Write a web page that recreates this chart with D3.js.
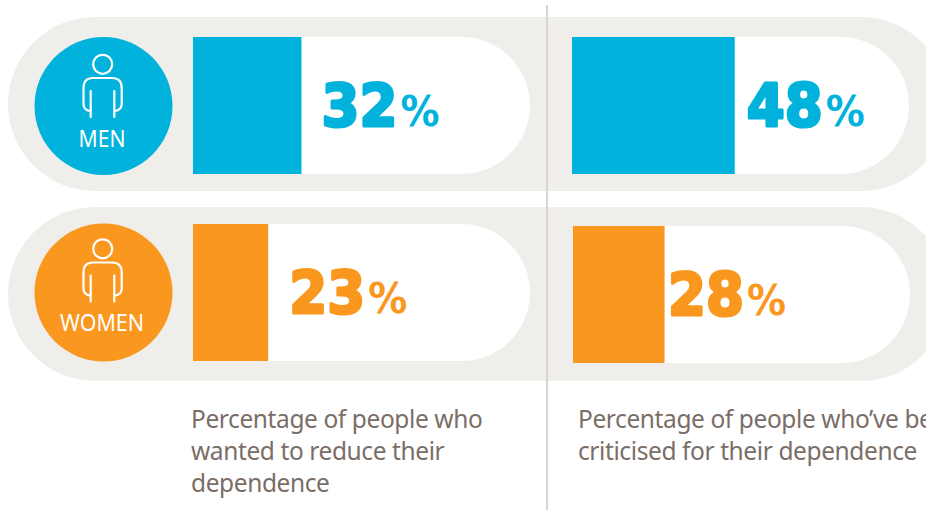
<!DOCTYPE html>
<html>
<head>
<meta charset="utf-8">
<script src="https://cdn.jsdelivr.net/npm/d3@7/dist/d3.min.js"></script>
<style>
  html, body { margin: 0; padding: 0; background: #fff; overflow: hidden; }
  svg { display: block; }
</style>
</head>
<body>
<svg id="chart"></svg>
<script>
// ── data ───────────────────────────────────────────────────────────────
const groups = ["MEN", "WOMEN"];
const reduceValues = [32, 23];
const criticisedValues = [48, 28];
const reduceCaption = ["Percentage of people who", "wanted to reduce their", "dependence"];
const criticisedCaption = ["Percentage of people who’ve been", "criticised for their dependence"];

// ── geometry ───────────────────────────────────────────────────────────
const W = 926, H = 510;
const pillW = 337, pillH = 137;
const colour = { MEN: "#00b2dc", WOMEN: "#f9971e" };
const sans = "'Noto Sans', sans-serif";
const numFont = "'DejaVu Sans', sans-serif";

const panels = [
    { values: reduceValues,     x: [193, 193], rowY: [37, 224], gap: [20, 21], caption: reduceCaption,     capX: 191 },
    { values: criticisedValues, x: [572, 573], rowY: [37, 226], gap: [12, 3.5], caption: criticisedCaption, capX: 578 },
];
const bandY = [17, 207];
const circleY = [106, 292.5];
const iconDy = [0, 184.5];
const labelY = [146.5, 330.5];
const labelW = [47, 84];

// the women's bars run a little shorter per percent in the source, so one scale per row
const xByRow = [
    d3.scaleLinear().domain([0, 100]).range([0, 339]),
    d3.scaleLinear().domain([0, 100]).range([0, 327]),
];

const svg = d3.select("#chart").attr("width", W).attr("height", H);

// ── grey bands ─────────────────────────────────────────────────────────
svg.selectAll(".band").data(groups).enter().append("rect")
    .attr("class", "band")
    .attr("x", 8).attr("y", (d, i) => bandY[i])
    .attr("width", 940).attr("height", 174)
    .attr("rx", 87)
    .attr("fill", "#efeeea");

// ── divider ────────────────────────────────────────────────────────────
svg.append("line")
    .attr("x1", 547).attr("x2", 547).attr("y1", 5).attr("y2", H)
    .attr("stroke", "#d8d5ce").attr("stroke-width", 2);

// ── panels ─────────────────────────────────────────────────────────────
panels.forEach(p => {
    const g = svg.append("g");
    const rows = g.selectAll(".row").data(p.values).enter().append("g").attr("class", "row");

    // white pill, square on the left, round on the right
    rows.append("path")
        .attr("fill", "#fff")
        .attr("d", (d, i) => {
            const y0 = p.rowY[i], r = pillH / 2, x1 = p.x[i] + pillW;
            return `M${p.x[i]},${y0}H${x1 - r}A${r},${r} 0 0 1 ${x1 - r},${y0 + pillH}H${p.x[i]}Z`;
        });

    rows.append("rect")
        .attr("x", (d, i) => p.x[i])
        .attr("y", (d, i) => p.rowY[i])
        .attr("width", (d, i) => xByRow[i](d))
        .attr("height", pillH)
        .attr("fill", (d, i) => colour[groups[i]]);

    // big number + small percent sign
    rows.append("text")
        .attr("x", (d, i) => p.x[i] + xByRow[i](d) + p.gap[i])
        .attr("y", (d, i) => p.rowY[i] + 89)
        .attr("font-family", numFont).attr("font-weight", 700).attr("font-size", 59)
        .attr("textLength", 76).attr("lengthAdjust", "spacingAndGlyphs")
        .attr("fill", (d, i) => colour[groups[i]])
        .attr("stroke", (d, i) => colour[groups[i]]).attr("stroke-width", 3).attr("stroke-linejoin", "round")
        .text(d => d);

    rows.append("text")
        .attr("x", (d, i) => p.x[i] + xByRow[i](d) + p.gap[i] + 79)
        .attr("y", (d, i) => p.rowY[i] + 89)
        .attr("font-family", numFont).attr("font-weight", 700).attr("font-size", 42)
        .attr("textLength", 39).attr("lengthAdjust", "spacingAndGlyphs")
        .attr("fill", (d, i) => colour[groups[i]])
        .text("%");

    // caption
    g.append("text")
        .attr("font-family", sans).attr("font-size", 24.5).attr("letter-spacing", -0.4).attr("fill", "#7a6e67")
        .selectAll("tspan").data(p.caption).enter().append("tspan")
        .attr("x", p.capX)
        .attr("y", (d, i) => 427.5 + i * 32.2)
        .text(d => d);
});

// ── badges ─────────────────────────────────────────────────────────────
const badges = svg.selectAll(".badge").data(groups).enter().append("g").attr("class", "badge");

badges.append("circle")
    .attr("cx", 103.5).attr("cy", (d, i) => circleY[i]).attr("r", 69)
    .attr("fill", d => colour[d]);

const icon = badges.append("g")
    .attr("transform", (d, i) => `translate(0,${iconDy[i]})`)
    .attr("fill", "none").attr("stroke", "#fff").attr("stroke-width", 2.2).attr("stroke-linecap", "round");

icon.append("circle").attr("cx", 102.7).attr("cy", 64.3).attr("r", 9.5);
icon.append("path").attr("d", "M90,111Q83.5,110 83.5,104V88Q83.5,78 93,78H112Q121.7,78 121.7,88V104Q121.7,110 115,111");
icon.append("path").attr("d", "M90.7,91V117M114.3,91V117");

badges.append("text")
    .attr("x", 102).attr("y", (d, i) => labelY[i])
    .attr("text-anchor", "middle")
    .attr("font-family", sans).attr("font-size", 23).attr("fill", "#fff")
    .attr("textLength", (d, i) => labelW[i]).attr("lengthAdjust", "spacingAndGlyphs")
    .text(d => d);
</script>
</body>
</html>
